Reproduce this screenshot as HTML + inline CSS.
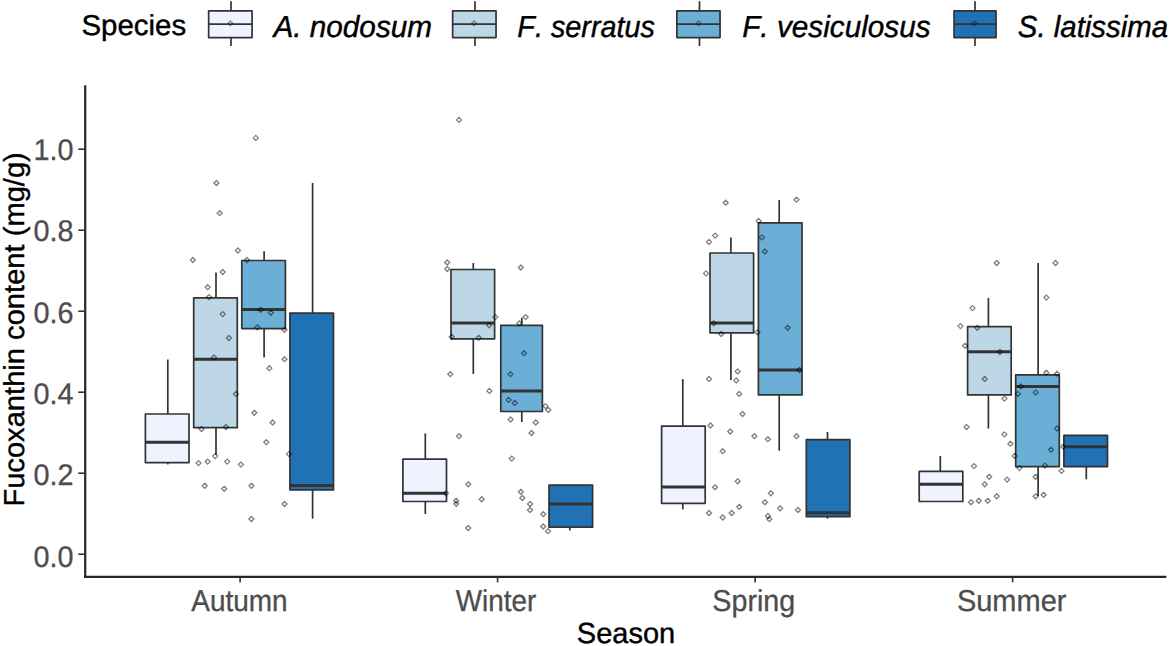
<!DOCTYPE html>
<html><head><meta charset="utf-8"><title>Fucoxanthin content by season</title>
<style>html,body{margin:0;padding:0;background:#fff;}body{width:1171px;height:646px;overflow:hidden;}svg{display:block;}text{font-family:"Liberation Sans",sans-serif;font-kerning:none;font-variant-ligatures:none;text-rendering:geometricPrecision;}</style></head><body>
<svg width="1171" height="646" viewBox="0 0 1171 646">
<rect width="1171" height="646" fill="#ffffff"/>
<g stroke="#333333" stroke-width="1.7" stroke-linecap="butt" stroke-linejoin="round">
<line x1="167.8" y1="359.5" x2="167.8" y2="414.0"/>
<line x1="167.8" y1="462.6" x2="167.8" y2="464.4"/>
<rect x="145.4" y="414.0" width="43.6" height="48.6" fill="#EFF3FF"/>
<line x1="145.4" y1="442.2" x2="189.0" y2="442.2" stroke-width="3"/>
<line x1="216.0" y1="272.4" x2="216.0" y2="297.9"/>
<line x1="216.0" y1="427.7" x2="216.0" y2="454.9"/>
<rect x="193.7" y="297.9" width="43.6" height="129.8" fill="#BDD7E7"/>
<line x1="193.7" y1="359.2" x2="237.3" y2="359.2" stroke-width="3"/>
<line x1="264.1" y1="251.2" x2="264.1" y2="260.5"/>
<line x1="264.1" y1="328.6" x2="264.1" y2="357.5"/>
<rect x="241.8" y="260.5" width="43.6" height="68.1" fill="#6BAED6"/>
<line x1="241.8" y1="309.4" x2="285.4" y2="309.4" stroke-width="3"/>
<line x1="312.6" y1="183.0" x2="312.6" y2="313.1"/>
<line x1="312.6" y1="489.8" x2="312.6" y2="518.7"/>
<rect x="289.9" y="313.1" width="43.6" height="176.7" fill="#2171B5"/>
<line x1="289.9" y1="485.6" x2="333.6" y2="485.6" stroke-width="3"/>
<line x1="425.3" y1="433.4" x2="425.3" y2="459.1"/>
<line x1="425.3" y1="501.5" x2="425.3" y2="514.0"/>
<rect x="402.9" y="459.1" width="43.6" height="42.4" fill="#EFF3FF"/>
<line x1="402.9" y1="493.3" x2="446.5" y2="493.3" stroke-width="3"/>
<line x1="473.3" y1="263.0" x2="473.3" y2="269.5"/>
<line x1="473.3" y1="338.8" x2="473.3" y2="373.9"/>
<rect x="451.0" y="269.5" width="43.6" height="69.3" fill="#BDD7E7"/>
<line x1="451.0" y1="323.1" x2="494.6" y2="323.1" stroke-width="3"/>
<line x1="521.8" y1="317.8" x2="521.8" y2="325.3"/>
<line x1="521.8" y1="411.5" x2="521.8" y2="422.0"/>
<rect x="500.8" y="325.3" width="41.6" height="86.2" fill="#6BAED6"/>
<line x1="500.8" y1="391.1" x2="542.4" y2="391.1" stroke-width="3"/>
<line x1="569.8" y1="527.2" x2="569.8" y2="530.5"/>
<rect x="549.0" y="485.1" width="43.6" height="42.1" fill="#2171B5"/>
<line x1="549.0" y1="504.0" x2="592.6" y2="504.0" stroke-width="3"/>
<line x1="682.8" y1="379.2" x2="682.8" y2="426.2"/>
<line x1="682.8" y1="503.3" x2="682.8" y2="509.3"/>
<rect x="661.6" y="426.2" width="43.6" height="77.1" fill="#EFF3FF"/>
<line x1="661.6" y1="487.1" x2="705.2" y2="487.1" stroke-width="3"/>
<line x1="730.9" y1="237.6" x2="730.9" y2="253.0"/>
<line x1="730.9" y1="332.8" x2="730.9" y2="379.9"/>
<rect x="710.0" y="253.0" width="43.6" height="79.8" fill="#BDD7E7"/>
<line x1="710.0" y1="323.1" x2="753.6" y2="323.1" stroke-width="3"/>
<line x1="779.2" y1="200.0" x2="779.2" y2="222.9"/>
<line x1="779.2" y1="394.9" x2="779.2" y2="450.7"/>
<rect x="758.4" y="222.9" width="43.6" height="172.0" fill="#6BAED6"/>
<line x1="758.4" y1="370.0" x2="802.0" y2="370.0" stroke-width="3"/>
<line x1="827.5" y1="432.0" x2="827.5" y2="439.7"/>
<line x1="827.5" y1="516.7" x2="827.5" y2="518.7"/>
<rect x="806.3" y="439.7" width="43.6" height="77.0" fill="#2171B5"/>
<line x1="806.3" y1="512.7" x2="849.9" y2="512.7" stroke-width="3"/>
<line x1="940.3" y1="455.9" x2="940.3" y2="471.4"/>
<rect x="919.2" y="471.4" width="43.6" height="30.1" fill="#EFF3FF"/>
<line x1="919.2" y1="484.3" x2="962.9" y2="484.3" stroke-width="3"/>
<line x1="988.4" y1="297.9" x2="988.4" y2="326.6"/>
<line x1="988.4" y1="394.9" x2="988.4" y2="428.5"/>
<rect x="967.6" y="326.6" width="43.6" height="68.3" fill="#BDD7E7"/>
<line x1="967.6" y1="351.7" x2="1011.2" y2="351.7" stroke-width="3"/>
<line x1="1038.1" y1="263.0" x2="1038.1" y2="374.9"/>
<line x1="1038.1" y1="466.6" x2="1038.1" y2="496.0"/>
<rect x="1015.7" y="374.9" width="43.6" height="91.7" fill="#6BAED6"/>
<line x1="1015.7" y1="386.4" x2="1059.2" y2="386.4" stroke-width="3"/>
<line x1="1086.3" y1="466.6" x2="1086.3" y2="479.3"/>
<rect x="1063.9" y="435.4" width="43.6" height="31.2" fill="#2171B5"/>
<line x1="1063.9" y1="446.7" x2="1107.5" y2="446.7" stroke-width="3"/>
</g>
<g fill="none" stroke="#000" stroke-opacity="0.5" stroke-width="1.3">
<path d="M255.8 135.4l2.5 2.5l-2.5 2.5l-2.5 -2.5z"/>
<path d="M216.4 180.5l2.5 2.5l-2.5 2.5l-2.5 -2.5z"/>
<path d="M219.7 210.7l2.5 2.5l-2.5 2.5l-2.5 -2.5z"/>
<path d="M237.9 248.0l2.5 2.5l-2.5 2.5l-2.5 -2.5z"/>
<path d="M192.8 257.5l2.5 2.5l-2.5 2.5l-2.5 -2.5z"/>
<path d="M246.9 257.5l2.5 2.5l-2.5 2.5l-2.5 -2.5z"/>
<path d="M222.7 269.5l2.5 2.5l-2.5 2.5l-2.5 -2.5z"/>
<path d="M207.7 284.7l2.5 2.5l-2.5 2.5l-2.5 -2.5z"/>
<path d="M209.0 294.6l2.5 2.5l-2.5 2.5l-2.5 -2.5z"/>
<path d="M222.7 311.6l2.5 2.5l-2.5 2.5l-2.5 -2.5z"/>
<path d="M228.9 335.5l2.5 2.5l-2.5 2.5l-2.5 -2.5z"/>
<path d="M214.0 355.0l2.5 2.5l-2.5 2.5l-2.5 -2.5z"/>
<path d="M235.9 391.4l2.5 2.5l-2.5 2.5l-2.5 -2.5z"/>
<path d="M260.6 307.4l2.5 2.5l-2.5 2.5l-2.5 -2.5z"/>
<path d="M270.8 310.3l2.5 2.5l-2.5 2.5l-2.5 -2.5z"/>
<path d="M257.3 324.8l2.5 2.5l-2.5 2.5l-2.5 -2.5z"/>
<path d="M284.5 327.3l2.5 2.5l-2.5 2.5l-2.5 -2.5z"/>
<path d="M284.5 356.7l2.5 2.5l-2.5 2.5l-2.5 -2.5z"/>
<path d="M269.3 365.7l2.5 2.5l-2.5 2.5l-2.5 -2.5z"/>
<path d="M254.3 410.3l2.5 2.5l-2.5 2.5l-2.5 -2.5z"/>
<path d="M272.6 420.0l2.5 2.5l-2.5 2.5l-2.5 -2.5z"/>
<path d="M201.5 426.5l2.5 2.5l-2.5 2.5l-2.5 -2.5z"/>
<path d="M225.9 424.5l2.5 2.5l-2.5 2.5l-2.5 -2.5z"/>
<path d="M266.3 439.7l2.5 2.5l-2.5 2.5l-2.5 -2.5z"/>
<path d="M289.0 451.6l2.5 2.5l-2.5 2.5l-2.5 -2.5z"/>
<path d="M215.2 453.6l2.5 2.5l-2.5 2.5l-2.5 -2.5z"/>
<path d="M198.5 460.6l2.5 2.5l-2.5 2.5l-2.5 -2.5z"/>
<path d="M207.7 459.1l2.5 2.5l-2.5 2.5l-2.5 -2.5z"/>
<path d="M227.2 459.1l2.5 2.5l-2.5 2.5l-2.5 -2.5z"/>
<path d="M240.9 462.1l2.5 2.5l-2.5 2.5l-2.5 -2.5z"/>
<path d="M204.7 483.3l2.5 2.5l-2.5 2.5l-2.5 -2.5z"/>
<path d="M224.2 486.3l2.5 2.5l-2.5 2.5l-2.5 -2.5z"/>
<path d="M251.4 483.3l2.5 2.5l-2.5 2.5l-2.5 -2.5z"/>
<path d="M284.5 501.5l2.5 2.5l-2.5 2.5l-2.5 -2.5z"/>
<path d="M251.4 516.5l2.5 2.5l-2.5 2.5l-2.5 -2.5z"/>
<path d="M459.0 117.4l2.5 2.5l-2.5 2.5l-2.5 -2.5z"/>
<path d="M447.3 260.0l2.5 2.5l-2.5 2.5l-2.5 -2.5z"/>
<path d="M447.3 266.5l2.5 2.5l-2.5 2.5l-2.5 -2.5z"/>
<path d="M520.8 265.0l2.5 2.5l-2.5 2.5l-2.5 -2.5z"/>
<path d="M495.4 314.6l2.5 2.5l-2.5 2.5l-2.5 -2.5z"/>
<path d="M489.2 322.8l2.5 2.5l-2.5 2.5l-2.5 -2.5z"/>
<path d="M451.7 334.3l2.5 2.5l-2.5 2.5l-2.5 -2.5z"/>
<path d="M478.7 335.3l2.5 2.5l-2.5 2.5l-2.5 -2.5z"/>
<path d="M525.6 314.6l2.5 2.5l-2.5 2.5l-2.5 -2.5z"/>
<path d="M519.3 320.8l2.5 2.5l-2.5 2.5l-2.5 -2.5z"/>
<path d="M524.1 350.7l2.5 2.5l-2.5 2.5l-2.5 -2.5z"/>
<path d="M510.4 371.7l2.5 2.5l-2.5 2.5l-2.5 -2.5z"/>
<path d="M450.3 371.7l2.5 2.5l-2.5 2.5l-2.5 -2.5z"/>
<path d="M489.4 388.4l2.5 2.5l-2.5 2.5l-2.5 -2.5z"/>
<path d="M508.6 397.4l2.5 2.5l-2.5 2.5l-2.5 -2.5z"/>
<path d="M514.8 400.4l2.5 2.5l-2.5 2.5l-2.5 -2.5z"/>
<path d="M545.5 403.6l2.5 2.5l-2.5 2.5l-2.5 -2.5z"/>
<path d="M548.3 407.5l2.5 2.5l-2.5 2.5l-2.5 -2.5z"/>
<path d="M510.6 417.0l2.5 2.5l-2.5 2.5l-2.5 -2.5z"/>
<path d="M535.8 420.0l2.5 2.5l-2.5 2.5l-2.5 -2.5z"/>
<path d="M531.5 430.5l2.5 2.5l-2.5 2.5l-2.5 -2.5z"/>
<path d="M459.0 433.7l2.5 2.5l-2.5 2.5l-2.5 -2.5z"/>
<path d="M511.8 456.1l2.5 2.5l-2.5 2.5l-2.5 -2.5z"/>
<path d="M468.2 481.8l2.5 2.5l-2.5 2.5l-2.5 -2.5z"/>
<path d="M520.8 489.3l2.5 2.5l-2.5 2.5l-2.5 -2.5z"/>
<path d="M522.3 495.5l2.5 2.5l-2.5 2.5l-2.5 -2.5z"/>
<path d="M481.7 496.8l2.5 2.5l-2.5 2.5l-2.5 -2.5z"/>
<path d="M456.2 498.3l2.5 2.5l-2.5 2.5l-2.5 -2.5z"/>
<path d="M456.2 501.3l2.5 2.5l-2.5 2.5l-2.5 -2.5z"/>
<path d="M446.0 490.8l2.5 2.5l-2.5 2.5l-2.5 -2.5z"/>
<path d="M530.0 501.5l2.5 2.5l-2.5 2.5l-2.5 -2.5z"/>
<path d="M530.0 507.5l2.5 2.5l-2.5 2.5l-2.5 -2.5z"/>
<path d="M543.3 511.7l2.5 2.5l-2.5 2.5l-2.5 -2.5z"/>
<path d="M543.3 524.0l2.5 2.5l-2.5 2.5l-2.5 -2.5z"/>
<path d="M548.0 528.7l2.5 2.5l-2.5 2.5l-2.5 -2.5z"/>
<path d="M468.2 525.5l2.5 2.5l-2.5 2.5l-2.5 -2.5z"/>
<path d="M725.7 200.2l2.5 2.5l-2.5 2.5l-2.5 -2.5z"/>
<path d="M796.5 197.2l2.5 2.5l-2.5 2.5l-2.5 -2.5z"/>
<path d="M758.6 218.4l2.5 2.5l-2.5 2.5l-2.5 -2.5z"/>
<path d="M715.2 233.1l2.5 2.5l-2.5 2.5l-2.5 -2.5z"/>
<path d="M709.0 239.4l2.5 2.5l-2.5 2.5l-2.5 -2.5z"/>
<path d="M761.9 234.9l2.5 2.5l-2.5 2.5l-2.5 -2.5z"/>
<path d="M764.8 249.0l2.5 2.5l-2.5 2.5l-2.5 -2.5z"/>
<path d="M706.0 270.9l2.5 2.5l-2.5 2.5l-2.5 -2.5z"/>
<path d="M713.7 320.8l2.5 2.5l-2.5 2.5l-2.5 -2.5z"/>
<path d="M721.2 331.5l2.5 2.5l-2.5 2.5l-2.5 -2.5z"/>
<path d="M757.4 329.8l2.5 2.5l-2.5 2.5l-2.5 -2.5z"/>
<path d="M787.6 325.3l2.5 2.5l-2.5 2.5l-2.5 -2.5z"/>
<path d="M799.5 367.5l2.5 2.5l-2.5 2.5l-2.5 -2.5z"/>
<path d="M737.7 368.9l2.5 2.5l-2.5 2.5l-2.5 -2.5z"/>
<path d="M709.0 376.4l2.5 2.5l-2.5 2.5l-2.5 -2.5z"/>
<path d="M736.2 377.9l2.5 2.5l-2.5 2.5l-2.5 -2.5z"/>
<path d="M739.2 391.4l2.5 2.5l-2.5 2.5l-2.5 -2.5z"/>
<path d="M742.5 411.5l2.5 2.5l-2.5 2.5l-2.5 -2.5z"/>
<path d="M710.5 423.0l2.5 2.5l-2.5 2.5l-2.5 -2.5z"/>
<path d="M730.2 429.0l2.5 2.5l-2.5 2.5l-2.5 -2.5z"/>
<path d="M754.4 433.7l2.5 2.5l-2.5 2.5l-2.5 -2.5z"/>
<path d="M767.9 436.7l2.5 2.5l-2.5 2.5l-2.5 -2.5z"/>
<path d="M796.5 433.7l2.5 2.5l-2.5 2.5l-2.5 -2.5z"/>
<path d="M722.7 448.7l2.5 2.5l-2.5 2.5l-2.5 -2.5z"/>
<path d="M737.7 478.8l2.5 2.5l-2.5 2.5l-2.5 -2.5z"/>
<path d="M715.0 484.8l2.5 2.5l-2.5 2.5l-2.5 -2.5z"/>
<path d="M770.8 490.8l2.5 2.5l-2.5 2.5l-2.5 -2.5z"/>
<path d="M764.9 499.8l2.5 2.5l-2.5 2.5l-2.5 -2.5z"/>
<path d="M739.2 504.3l2.5 2.5l-2.5 2.5l-2.5 -2.5z"/>
<path d="M780.1 505.8l2.5 2.5l-2.5 2.5l-2.5 -2.5z"/>
<path d="M798.0 507.5l2.5 2.5l-2.5 2.5l-2.5 -2.5z"/>
<path d="M709.0 510.5l2.5 2.5l-2.5 2.5l-2.5 -2.5z"/>
<path d="M731.7 510.5l2.5 2.5l-2.5 2.5l-2.5 -2.5z"/>
<path d="M722.7 515.0l2.5 2.5l-2.5 2.5l-2.5 -2.5z"/>
<path d="M767.9 513.5l2.5 2.5l-2.5 2.5l-2.5 -2.5z"/>
<path d="M769.3 516.7l2.5 2.5l-2.5 2.5l-2.5 -2.5z"/>
<path d="M996.7 260.5l2.5 2.5l-2.5 2.5l-2.5 -2.5z"/>
<path d="M1055.5 260.5l2.5 2.5l-2.5 2.5l-2.5 -2.5z"/>
<path d="M1046.3 295.1l2.5 2.5l-2.5 2.5l-2.5 -2.5z"/>
<path d="M972.5 305.6l2.5 2.5l-2.5 2.5l-2.5 -2.5z"/>
<path d="M960.5 323.6l2.5 2.5l-2.5 2.5l-2.5 -2.5z"/>
<path d="M977.2 325.3l2.5 2.5l-2.5 2.5l-2.5 -2.5z"/>
<path d="M965.0 343.3l2.5 2.5l-2.5 2.5l-2.5 -2.5z"/>
<path d="M999.9 349.5l2.5 2.5l-2.5 2.5l-2.5 -2.5z"/>
<path d="M984.7 376.4l2.5 2.5l-2.5 2.5l-2.5 -2.5z"/>
<path d="M1046.3 370.2l2.5 2.5l-2.5 2.5l-2.5 -2.5z"/>
<path d="M1057.0 371.2l2.5 2.5l-2.5 2.5l-2.5 -2.5z"/>
<path d="M1020.9 383.9l2.5 2.5l-2.5 2.5l-2.5 -2.5z"/>
<path d="M1017.9 391.4l2.5 2.5l-2.5 2.5l-2.5 -2.5z"/>
<path d="M1035.8 389.9l2.5 2.5l-2.5 2.5l-2.5 -2.5z"/>
<path d="M1004.4 396.1l2.5 2.5l-2.5 2.5l-2.5 -2.5z"/>
<path d="M966.5 424.5l2.5 2.5l-2.5 2.5l-2.5 -2.5z"/>
<path d="M1004.4 431.9l2.5 2.5l-2.5 2.5l-2.5 -2.5z"/>
<path d="M1057.0 426.0l2.5 2.5l-2.5 2.5l-2.5 -2.5z"/>
<path d="M1010.4 441.2l2.5 2.5l-2.5 2.5l-2.5 -2.5z"/>
<path d="M1051.0 447.2l2.5 2.5l-2.5 2.5l-2.5 -2.5z"/>
<path d="M1063.3 444.2l2.5 2.5l-2.5 2.5l-2.5 -2.5z"/>
<path d="M1014.6 453.4l2.5 2.5l-2.5 2.5l-2.5 -2.5z"/>
<path d="M974.0 463.6l2.5 2.5l-2.5 2.5l-2.5 -2.5z"/>
<path d="M1019.4 465.6l2.5 2.5l-2.5 2.5l-2.5 -2.5z"/>
<path d="M1045.0 463.1l2.5 2.5l-2.5 2.5l-2.5 -2.5z"/>
<path d="M1061.5 468.4l2.5 2.5l-2.5 2.5l-2.5 -2.5z"/>
<path d="M989.2 474.3l2.5 2.5l-2.5 2.5l-2.5 -2.5z"/>
<path d="M1007.1 477.1l2.5 2.5l-2.5 2.5l-2.5 -2.5z"/>
<path d="M1035.6 474.3l2.5 2.5l-2.5 2.5l-2.5 -2.5z"/>
<path d="M984.7 481.8l2.5 2.5l-2.5 2.5l-2.5 -2.5z"/>
<path d="M996.7 493.8l2.5 2.5l-2.5 2.5l-2.5 -2.5z"/>
<path d="M1035.6 493.8l2.5 2.5l-2.5 2.5l-2.5 -2.5z"/>
<path d="M1043.6 492.3l2.5 2.5l-2.5 2.5l-2.5 -2.5z"/>
<path d="M971.0 499.8l2.5 2.5l-2.5 2.5l-2.5 -2.5z"/>
<path d="M978.7 498.3l2.5 2.5l-2.5 2.5l-2.5 -2.5z"/>
<path d="M987.7 498.3l2.5 2.5l-2.5 2.5l-2.5 -2.5z"/>
</g>
<g stroke="#262626" stroke-width="2.2" fill="none">
<line x1="85.2" y1="85.3" x2="85.2" y2="578"/>
<line x1="84.1" y1="576.9" x2="1166.3" y2="576.9"/>
</g>
<g stroke="#333333" stroke-width="1.6">
<line x1="78.3" y1="554.2" x2="85" y2="554.2"/>
<line x1="78.3" y1="473.2" x2="85" y2="473.2"/>
<line x1="78.3" y1="392.2" x2="85" y2="392.2"/>
<line x1="78.3" y1="311.2" x2="85" y2="311.2"/>
<line x1="78.3" y1="230.2" x2="85" y2="230.2"/>
<line x1="78.3" y1="149.2" x2="85" y2="149.2"/>
<line x1="240.1" y1="577" x2="240.1" y2="582.4"/>
<line x1="497.6" y1="577" x2="497.6" y2="582.4"/>
<line x1="755.1" y1="577" x2="755.1" y2="582.4"/>
<line x1="1012.6" y1="577" x2="1012.6" y2="582.4"/>
</g>
<text transform="translate(73.60,566.70) scale(1.0100,1.0500)" font-size="28.50" fill="#4d4d4d" text-anchor="end" stroke="#4d4d4d" stroke-width="0.30">0.0</text>
<text transform="translate(73.60,485.39) scale(1.0100,1.0500)" font-size="28.50" fill="#4d4d4d" text-anchor="end" stroke="#4d4d4d" stroke-width="0.30">0.2</text>
<text transform="translate(73.60,404.08) scale(1.0100,1.0500)" font-size="28.50" fill="#4d4d4d" text-anchor="end" stroke="#4d4d4d" stroke-width="0.30">0.4</text>
<text transform="translate(73.60,322.77) scale(1.0100,1.0500)" font-size="28.50" fill="#4d4d4d" text-anchor="end" stroke="#4d4d4d" stroke-width="0.30">0.6</text>
<text transform="translate(73.60,241.46) scale(1.0100,1.0500)" font-size="28.50" fill="#4d4d4d" text-anchor="end" stroke="#4d4d4d" stroke-width="0.30">0.8</text>
<text transform="translate(73.60,160.15) scale(1.0100,1.0500)" font-size="28.50" fill="#4d4d4d" text-anchor="end" stroke="#4d4d4d" stroke-width="0.30">1.0</text>
<text transform="translate(239.45,610.50) scale(0.9800,1.0600)" font-size="28.50" fill="#4d4d4d" text-anchor="middle" stroke="#4d4d4d" stroke-width="0.30">Autumn</text>
<text transform="translate(496.00,610.50) scale(0.9780,1.0600)" font-size="28.50" fill="#4d4d4d" text-anchor="middle" stroke="#4d4d4d" stroke-width="0.30">Winter</text>
<text transform="translate(753.80,610.50) scale(1.0070,1.0600)" font-size="28.50" fill="#4d4d4d" text-anchor="middle" stroke="#4d4d4d" stroke-width="0.30">Spring</text>
<text transform="translate(1011.70,610.50) scale(1.0180,1.0600)" font-size="28.50" fill="#4d4d4d" text-anchor="middle" stroke="#4d4d4d" stroke-width="0.30">Summer</text>
<text transform="translate(626.00,643.20)" font-size="29.00" fill="#000" text-anchor="middle" stroke="#000" stroke-width="0.40">Season</text>
<text transform="translate(24.10,329.40) rotate(-90) scale(1.0040,0.9950)" font-size="29.00" fill="#000" text-anchor="middle" stroke="#000" stroke-width="0.40">Fucoxanthin content (mg/g)</text>
<text transform="translate(81.40,35.30) scale(0.9980,0.9750)" font-size="29.50" fill="#000" stroke="#000" stroke-width="0.40">Species</text>
<g stroke="#333333" stroke-width="1.7" stroke-linejoin="round">
<line x1="231.0" y1="1.2" x2="231.0" y2="46"/>
<rect x="208.65" y="10.9" width="43.4" height="26.7" fill="#EFF3FF"/>
<line x1="208.65" y1="24.1" x2="252.05" y2="24.1"/>
</g>
<path d="M230.4 20.9l2.4 2.4l-2.4 2.4l-2.4 -2.4z" fill="none" stroke="#000" stroke-opacity="0.45" stroke-width="1.1"/>
<text transform="translate(273.40,37.00) scale(1.0080,1.0300)" font-size="29.50" fill="#000" font-style="italic" stroke="#000" stroke-width="0.40">A. nodosum</text>
<g stroke="#333333" stroke-width="1.7" stroke-linejoin="round">
<line x1="475.0" y1="1.2" x2="475.0" y2="46"/>
<rect x="452.65" y="10.9" width="43.4" height="26.7" fill="#BDD7E7"/>
<line x1="452.65" y1="24.1" x2="496.05" y2="24.1"/>
</g>
<path d="M474.1 20.9l2.4 2.4l-2.4 2.4l-2.4 -2.4z" fill="none" stroke="#000" stroke-opacity="0.45" stroke-width="1.1"/>
<text transform="translate(517.30,37.00) scale(0.9760,1.0300)" font-size="29.50" fill="#000" font-style="italic" stroke="#000" stroke-width="0.40">F. serratus</text>
<g stroke="#333333" stroke-width="1.7" stroke-linejoin="round">
<line x1="699.5" y1="1.2" x2="699.5" y2="46"/>
<rect x="676.85" y="10.9" width="43.2" height="26.7" fill="#6BAED6"/>
<line x1="676.85" y1="24.1" x2="720.05" y2="24.1"/>
</g>
<path d="M698.6 20.9l2.4 2.4l-2.4 2.4l-2.4 -2.4z" fill="none" stroke="#000" stroke-opacity="0.45" stroke-width="1.1"/>
<text transform="translate(742.20,37.00) scale(1.0080,1.0300)" font-size="29.50" fill="#000" font-style="italic" stroke="#000" stroke-width="0.40">F. vesiculosus</text>
<g stroke="#333333" stroke-width="1.7" stroke-linejoin="round">
<line x1="975.0" y1="1.2" x2="975.0" y2="46"/>
<rect x="954.05" y="10.9" width="42.0" height="26.7" fill="#2171B5"/>
<line x1="954.05" y1="24.1" x2="996.05" y2="24.1"/>
</g>
<path d="M974.2 20.9l2.4 2.4l-2.4 2.4l-2.4 -2.4z" fill="none" stroke="#000" stroke-opacity="0.45" stroke-width="1.1"/>
<text transform="translate(1017.80,37.00) scale(0.9970,1.0300)" font-size="29.50" fill="#000" font-style="italic" stroke="#000" stroke-width="0.40">S. latissima</text>
</svg></body></html>
